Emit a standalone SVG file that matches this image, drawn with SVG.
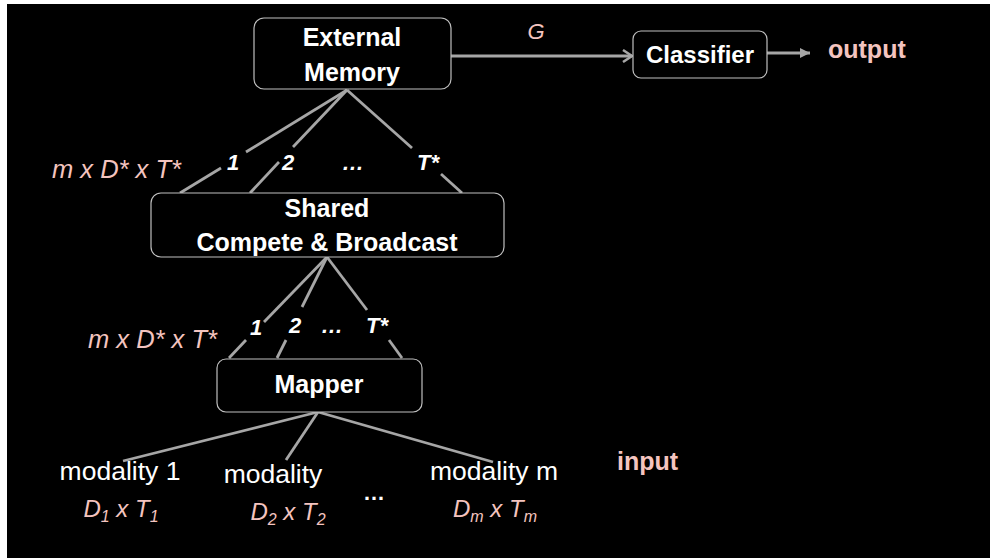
<svg xmlns="http://www.w3.org/2000/svg" width="990" height="558" viewBox="0 0 990 558">
  <defs>
    <marker id="chev" markerWidth="14" markerHeight="14" refX="11" refY="7" orient="auto" markerUnits="userSpaceOnUse">
      <path d="M2,1 L11,7 L2,13" fill="none" stroke="#a6a6a6" stroke-width="2.5"/>
    </marker>
    <marker id="tri" markerWidth="12" markerHeight="10" refX="10" refY="5" orient="auto" markerUnits="userSpaceOnUse">
      <path d="M0,0 L10,5 L0,10 Z" fill="#a6a6a6"/>
    </marker>
    <style>
      .box { fill: #000; stroke: #bfbfbf; stroke-width: 1.2; }
      .title { font-family: "Liberation Sans", Arial, sans-serif; font-weight: bold; font-size: 25px; fill: #fff; text-anchor: middle; }
      .link { stroke: #a6a6a6; stroke-width: 2.8; fill: none; stroke-linecap: butt; }
      .idx { font-family: "Liberation Sans", Arial, sans-serif; font-weight: bold; font-style: italic; font-size: 22px; fill: #fff; text-anchor: middle; }
      .dim { font-family: "Liberation Sans", Arial, sans-serif; font-style: italic; font-size: 24px; fill: #f4c4bf; }
      .tag { font-family: "Liberation Sans", Arial, sans-serif; font-weight: bold; font-size: 25px; fill: #f4c4bf; }
      .mod { font-family: "Liberation Sans", Arial, sans-serif; font-size: 26.5px; fill: #fff; text-anchor: middle; }
    </style>
  </defs>

  <!-- page background -->
  <rect x="0" y="0" width="990" height="558" fill="#fff"/>
  <rect x="7" y="4" width="983" height="554" fill="#000"/>

  <!-- connectors -->
  <g id="connectors">
    <!-- memory -> classifier -> output -->
    <line class="link" x1="451" y1="56" x2="632" y2="56" marker-end="url(#chev)"/>
    <line class="link" x1="767" y1="53" x2="810" y2="53" marker-end="url(#tri)"/>

    <!-- compete & broadcast -> external memory (T* slots) -->
    <line class="link" x1="347" y1="90" x2="246" y2="152"/>
    <line class="link" x1="221" y1="168" x2="180" y2="193"/>
    <line class="link" x1="347" y1="90" x2="293" y2="147"/>
    <line class="link" x1="279" y1="162" x2="250" y2="193"/>
    <line class="link" x1="347" y1="90" x2="412" y2="148"/>
    <line class="link" x1="441" y1="174" x2="462" y2="193"/>

    <!-- mapper -> compete & broadcast (T* slots) -->
    <line class="link" x1="327" y1="257" x2="264" y2="322"/>
    <line class="link" x1="246" y1="340" x2="229" y2="358"/>
    <line class="link" x1="327" y1="257" x2="302" y2="307"/>
    <line class="link" x1="286" y1="340" x2="277" y2="358"/>
    <line class="link" x1="327" y1="257" x2="367" y2="310"/>
    <line class="link" x1="389" y1="340" x2="402" y2="358"/>

    <!-- modalities -> mapper -->
    <line class="link" x1="318" y1="412" x2="123" y2="461"/>
    <line class="link" x1="318" y1="412" x2="286" y2="460"/>
    <line class="link" x1="318" y1="412" x2="493" y2="462"/>
  </g>

  <!-- connector labels -->
  <g id="labels">
    <text class="dim" x="536" y="39" text-anchor="middle" style="font-size:22px">G</text>

    <text class="dim" x="52" y="178" style="font-size:25.5px">m x D* x T*</text>
    <text class="idx" x="233" y="170">1</text>
    <text class="idx" x="288" y="170">2</text>
    <text class="idx" x="353" y="170">…</text>
    <text class="idx" x="428" y="170">T*</text>

    <text class="dim" x="88" y="348" style="font-size:25.5px">m x D* x T*</text>
    <text class="idx" x="256" y="335">1</text>
    <text class="idx" x="295" y="333">2</text>
    <text class="idx" x="332" y="333">…</text>
    <text class="idx" x="377" y="333">T*</text>

    <text class="tag" x="828" y="58">output</text>
    <text class="tag" x="617" y="470">input</text>
  </g>

  <g id="external-memory">
    <rect class="box" x="254" y="18" width="197" height="71" rx="10"/>
    <text class="title" x="352" y="46">External</text>
    <text class="title" x="352" y="81">Memory</text>
  </g>

  <g id="classifier">
    <rect class="box" x="633" y="31" width="134" height="47" rx="8"/>
    <text class="title" x="700" y="63" style="font-size:24px">Classifier</text>
  </g>

  <g id="compete-broadcast">
    <rect class="box" x="151" y="193" width="353" height="64" rx="10"/>
    <text class="title" x="327" y="217">Shared</text>
    <text class="title" x="327" y="251">Compete &amp; Broadcast</text>
  </g>

  <g id="mapper">
    <rect class="box" x="217" y="359" width="205" height="53" rx="9"/>
    <text class="title" x="319" y="393">Mapper</text>
  </g>

  <g id="modality-1">
    <text class="mod" x="120" y="480">modality 1</text>
    <text class="dim" x="121" y="517" text-anchor="middle">D<tspan font-size="16" dy="5">1</tspan><tspan dy="-5"> x T</tspan><tspan font-size="16" dy="5">1</tspan></text>
  </g>

  <g id="modality-2">
    <text class="mod" x="273" y="483">modality</text>
    <text class="dim" x="288" y="520" text-anchor="middle">D<tspan font-size="16" dy="5">2</tspan><tspan dy="-5"> x T</tspan><tspan font-size="16" dy="5">2</tspan></text>
  </g>

  <text class="idx" x="374" y="500" style="font-style:normal">…</text>

  <g id="modality-m">
    <text class="mod" x="494" y="480">modality m</text>
    <text class="dim" x="495" y="517" text-anchor="middle">D<tspan font-size="16" dy="5">m</tspan><tspan dy="-5"> x T</tspan><tspan font-size="16" dy="5">m</tspan></text>
  </g>
</svg>
